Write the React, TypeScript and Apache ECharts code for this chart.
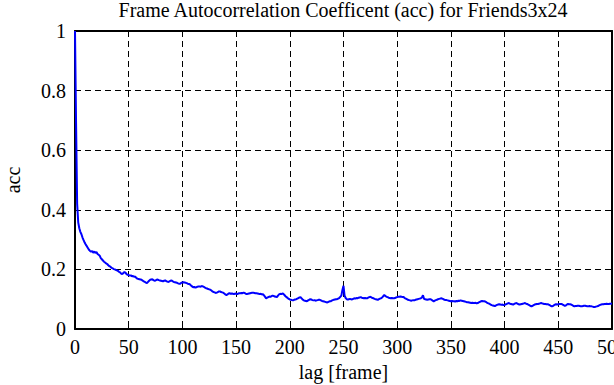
import React, { useEffect, useRef } from "react";
import * as echarts from "echarts";

const titleText = "Frame Autocorrelation Coefficent (acc) for Friends3x24";
const xName = "lag [frame]";
const yName = "acc";

// autocorrelation value for each lag 0..500
const acc: number[] = [
  1.0, 0.69, 0.42, 0.358, 0.338, 0.326, 0.318, 0.307, 0.298, 0.29, 0.283, 0.278, 0.272, 0.266, 0.262, 0.259, 0.262, 0.256, 0.26, 0.255,
  0.258, 0.252, 0.249, 0.246, 0.238, 0.234, 0.23, 0.226, 0.223, 0.22, 0.218, 0.214, 0.211, 0.209, 0.205, 0.204, 0.201, 0.2, 0.198, 0.197,
  0.195, 0.192, 0.19, 0.186, 0.184, 0.188, 0.191, 0.189, 0.184, 0.182, 0.181, 0.179, 0.18, 0.177, 0.178, 0.175, 0.176, 0.172, 0.169, 0.168,
  0.167, 0.166, 0.165, 0.162, 0.16, 0.158, 0.156, 0.154, 0.158, 0.162, 0.165, 0.166, 0.167, 0.164, 0.162, 0.163, 0.165, 0.166, 0.164, 0.163,
  0.162, 0.161, 0.16, 0.162, 0.163, 0.161, 0.159, 0.158, 0.16, 0.162, 0.163, 0.16, 0.158, 0.157, 0.156, 0.155, 0.153, 0.152, 0.152, 0.155,
  0.156, 0.157, 0.156, 0.155, 0.154, 0.152, 0.151, 0.15, 0.146, 0.143, 0.14, 0.141, 0.139, 0.14, 0.142, 0.143, 0.143, 0.142, 0.144, 0.143,
  0.141, 0.139, 0.137, 0.136, 0.134, 0.133, 0.132, 0.129, 0.126, 0.124, 0.123, 0.121, 0.122, 0.124, 0.126, 0.126, 0.124, 0.123, 0.122, 0.119,
  0.116, 0.114, 0.116, 0.119, 0.12, 0.118, 0.119, 0.118, 0.117, 0.119, 0.118, 0.117, 0.119, 0.12, 0.12, 0.121, 0.12, 0.122, 0.121, 0.118,
  0.117, 0.118, 0.119, 0.12, 0.121, 0.122, 0.122, 0.121, 0.12, 0.12, 0.119, 0.118, 0.117, 0.118, 0.116, 0.117, 0.113, 0.108, 0.103, 0.105,
  0.107, 0.109, 0.108, 0.11, 0.112, 0.111, 0.109, 0.108, 0.107, 0.112, 0.116, 0.118, 0.117, 0.119, 0.118, 0.114, 0.11, 0.107, 0.104, 0.101,
  0.099, 0.098, 0.097, 0.096, 0.098, 0.099, 0.1, 0.102, 0.104, 0.106, 0.107, 0.103, 0.099, 0.096, 0.095, 0.094, 0.093, 0.096, 0.098, 0.1,
  0.099, 0.097, 0.096, 0.097, 0.095, 0.096, 0.097, 0.098, 0.098, 0.096, 0.094, 0.093, 0.092, 0.091, 0.09, 0.089, 0.091, 0.093, 0.093, 0.095,
  0.097, 0.098, 0.099, 0.1, 0.1, 0.102, 0.104, 0.108, 0.112, 0.131, 0.145, 0.112, 0.104, 0.1, 0.099, 0.1, 0.101, 0.1, 0.099, 0.101,
  0.103, 0.102, 0.104, 0.103, 0.105, 0.106, 0.107, 0.105, 0.104, 0.103, 0.104, 0.103, 0.103, 0.105, 0.107, 0.108, 0.106, 0.104, 0.103, 0.101,
  0.1, 0.099, 0.098, 0.1, 0.102, 0.103, 0.106, 0.11, 0.114, 0.111, 0.108, 0.107, 0.105, 0.104, 0.103, 0.104, 0.103, 0.103, 0.104, 0.106,
  0.107, 0.108, 0.108, 0.109, 0.108, 0.107, 0.107, 0.104, 0.102, 0.1, 0.098, 0.097, 0.096, 0.095, 0.096, 0.097, 0.096, 0.098, 0.099, 0.1,
  0.101, 0.102, 0.103, 0.106, 0.113, 0.101, 0.1, 0.099, 0.098, 0.099, 0.1, 0.1, 0.098, 0.095, 0.093, 0.095, 0.097, 0.098, 0.1, 0.101,
  0.102, 0.103, 0.102, 0.1, 0.098, 0.097, 0.097, 0.096, 0.095, 0.094, 0.093, 0.094, 0.093, 0.093, 0.092, 0.094, 0.093, 0.095, 0.094, 0.096,
  0.095, 0.094, 0.093, 0.092, 0.091, 0.09, 0.09, 0.089, 0.088, 0.087, 0.088, 0.087, 0.087, 0.088, 0.086, 0.087, 0.089, 0.091, 0.093, 0.094,
  0.093, 0.093, 0.092, 0.09, 0.087, 0.086, 0.084, 0.082, 0.08, 0.079, 0.078, 0.077, 0.079, 0.081, 0.082, 0.083, 0.082, 0.081, 0.082, 0.08,
  0.081, 0.083, 0.084, 0.086, 0.087, 0.085, 0.084, 0.083, 0.082, 0.084, 0.086, 0.087, 0.085, 0.083, 0.082, 0.083, 0.084, 0.085, 0.086, 0.087,
  0.085, 0.084, 0.082, 0.08, 0.078, 0.076, 0.078, 0.08, 0.082, 0.083, 0.084, 0.084, 0.085, 0.086, 0.087, 0.086, 0.085, 0.084, 0.084, 0.083,
  0.083, 0.082, 0.08, 0.078, 0.076, 0.077, 0.08, 0.082, 0.083, 0.082, 0.083, 0.084, 0.084, 0.084, 0.082, 0.08, 0.078, 0.079, 0.082, 0.084,
  0.083, 0.083, 0.082, 0.08, 0.078, 0.076, 0.077, 0.077, 0.078, 0.078, 0.077, 0.076, 0.076, 0.077, 0.078, 0.078, 0.077, 0.076, 0.076, 0.077,
  0.076, 0.076, 0.075, 0.074, 0.074, 0.075, 0.076, 0.077, 0.079, 0.081, 0.082, 0.083, 0.083, 0.084, 0.084, 0.085, 0.084, 0.084, 0.085, 0.085, 0.086,
];

const FONT = "'Liberation Serif', 'Times New Roman', serif";

export default function App() {
  const ref = useRef<HTMLDivElement>(null);
  useEffect(() => {
    document.body.style.margin = "0";
    const chart = echarts.init(ref.current!, null, { renderer: "svg" });
    const dash = { color: "#000", width: 1, type: [6, 4] as number[] };
    const axisLine = { show: true, onZero: false, lineStyle: { color: "#000", width: 2 } };
    const tick = { show: true, inside: true, length: 6, lineStyle: { color: "#000", width: 1 } };
    const label = { color: "#000", fontFamily: FONT, fontSize: 20 };
    chart.setOption({
      animation: false,
      backgroundColor: "#fff",
      grid: { left: 75, right: 2, top: 31, bottom: 56, containLabel: false, outerBoundsMode: "none" },
      graphic: [
        {
          type: "text",
          x: 343,
          y: 0,
          style: { text: titleText, textAlign: "center", textVerticalAlign: "top", fill: "#000", font: `20px ${FONT}` },
        },
      ],
      xAxis: [
        {
          type: "value",
          min: 0,
          max: 500,
          interval: 50,
          name: xName,
          nameLocation: "middle",
          nameGap: 32,
          nameTextStyle: { color: "#000", fontFamily: FONT, fontSize: 20 },
          axisLine,
          axisTick: tick,
          axisLabel: { ...label, margin: 8 },
          splitLine: { show: true, lineStyle: dash },
        },
        {
          type: "value",
          position: "top",
          min: 0,
          max: 500,
          interval: 50,
          axisLine,
          axisTick: tick,
          axisLabel: { show: false },
          splitLine: { show: false },
        },
      ],
      yAxis: [
        {
          type: "value",
          min: 0,
          max: 1,
          interval: 0.2,
          name: yName,
          nameLocation: "middle",
          nameGap: 52,
          nameRotate: 90,
          nameTextStyle: { color: "#000", fontFamily: FONT, fontSize: 20 },
          axisLine,
          axisTick: tick,
          axisLabel: { ...label, margin: 9 },
          splitLine: { show: true, lineStyle: dash },
        },
        {
          type: "value",
          position: "right",
          min: 0,
          max: 1,
          interval: 0.2,
          axisLine,
          axisTick: tick,
          axisLabel: { show: false },
          splitLine: { show: false },
        },
      ],
      series: [
        {
          type: "line",
          xAxisIndex: 0,
          yAxisIndex: 0,
          data: acc.map((v, i) => [i, v]),
          showSymbol: false,
          lineStyle: { color: "#0000ff", width: 2 },
          z: 5,
        },
      ],
    });
    return () => chart.dispose();
  }, []);
  return <div ref={ref} style={{ width: 614, height: 385 }} />;
}
